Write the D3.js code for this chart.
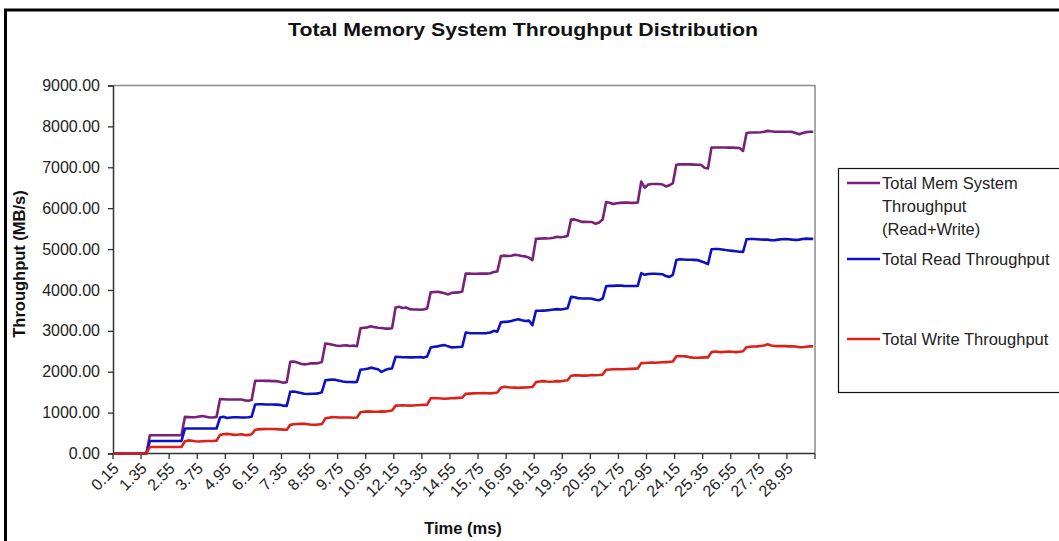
<!DOCTYPE html>
<html>
<head>
<meta charset="utf-8">
<script src="https://cdn.jsdelivr.net/npm/d3@7"></script>
<style>
  html, body { margin: 0; padding: 0; background: #fff; }
  svg { display: block; font-family: "Liberation Sans", Arial, sans-serif; }
</style>
</head>
<body>
<svg id="chart" width="1059" height="541"></svg>
<script>
// Sampling interval of the trace: one point every 0.15 ms, 200 samples
const times = d3.range(200).map(i => ((i + 1) * 0.15).toFixed(2));

// Every 8th sample carries a label on the time axis
const timeTickLabels = ["0.15","1.35","2.55","3.75","4.95","6.15","7.35","8.55","9.75","10.95",
  "12.15","13.35","14.55","15.75","16.95","18.15","19.35","20.55","21.75","22.95",
  "24.15","25.35","26.55","27.75","28.95"];

const yTicks = [0,1000,2000,3000,4000,5000,6000,7000,8000,9000];

const seriesNames = ["Total Mem System Throughput (Read+Write)", "Total Read Throughput", "Total Write Throughput"];

// Total (read + write) throughput, MB/s
const totalThroughput = [
  0,0,0,0,0,0,0,0,0,0,
  445,445,445,445,445,445,445,445,445,445,
  896,890,885,885,905,915,900,880,880,895,
  1330,1325,1320,1320,1320,1320,1320,1300,1290,1310,
  1776,1780,1780,1775,1775,1770,1770,1755,1730,1745,
  2245,2250,2225,2195,2180,2190,2205,2205,2210,2240,
  2690,2680,2660,2640,2630,2640,2645,2630,2640,2625,
  3060,3075,3085,3110,3090,3075,3070,3055,3055,3065,
  3570,3590,3560,3570,3530,3520,3520,3515,3525,3545,
  3940,3950,3955,3940,3920,3890,3930,3935,3940,3960,
  4400,4400,4395,4395,4400,4400,4400,4410,4440,4450,
  4830,4840,4830,4835,4860,4850,4830,4820,4790,4730,
  5250,5255,5260,5260,5265,5275,5300,5290,5300,5320,
  5720,5725,5700,5665,5665,5660,5660,5620,5650,5720,
  6150,6130,6100,6120,6130,6135,6135,6130,6130,6140,
  6650,6500,6580,6590,6590,6590,6580,6530,6560,6610,
  7060,7070,7070,7070,7070,7065,7060,7060,6990,6970,
  7480,7485,7485,7485,7485,7480,7480,7475,7470,7400,
  7840,7850,7850,7850,7855,7870,7890,7880,7870,7870,
  7870,7870,7870,7865,7840,7810,7840,7860,7870,7870
];

// Read throughput, MB/s
const readThroughput = [
  0,0,0,0,0,0,0,0,0,0,
  305,305,305,305,305,305,305,305,305,305,
  610,610,610,610,610,610,610,610,610,610,
  880,900,870,880,885,885,880,880,885,900,
  1200,1205,1205,1200,1200,1200,1195,1190,1170,1165,
  1510,1515,1500,1480,1460,1455,1460,1460,1470,1500,
  1790,1800,1810,1800,1780,1760,1750,1750,1745,1750,
  2050,2060,2075,2100,2080,2060,1995,2040,2070,2080,
  2365,2360,2355,2355,2350,2350,2355,2360,2345,2370,
  2590,2610,2620,2640,2650,2620,2595,2600,2605,2610,
  2960,2945,2940,2940,2940,2940,2945,2960,3000,2980,
  3210,3220,3225,3240,3265,3285,3260,3240,3250,3140,
  3490,3490,3495,3500,3510,3520,3530,3520,3535,3550,
  3830,3820,3800,3790,3790,3790,3785,3760,3750,3790,
  4090,4100,4100,4105,4110,4100,4095,4095,4095,4100,
  4410,4370,4390,4395,4395,4390,4385,4340,4320,4370,
  4730,4750,4745,4740,4740,4735,4730,4700,4670,4630,
  4995,5000,5000,4990,4975,4965,4955,4945,4935,4930,
  5240,5245,5245,5240,5235,5230,5230,5215,5215,5230,
  5240,5245,5240,5230,5225,5230,5245,5255,5250,5250
];

// Write throughput, MB/s
const writeThroughput = [
  0,0,0,0,0,0,0,0,0,0,
  160,160,160,160,160,160,160,160,160,160,
  300,320,310,300,295,300,305,305,305,315,
  455,470,480,470,455,460,470,455,450,470,
  580,590,595,600,600,600,595,590,585,580,
  700,715,720,725,725,715,705,700,710,720,
  860,875,890,885,880,880,880,880,875,880,
  1010,1020,1030,1025,1020,1020,1030,1025,1040,1050,
  1170,1175,1180,1175,1170,1175,1180,1185,1190,1195,
  1350,1355,1350,1345,1340,1345,1350,1355,1360,1365,
  1460,1465,1470,1475,1475,1480,1475,1470,1480,1490,
  1610,1630,1620,1615,1610,1605,1610,1615,1620,1625,
  1745,1760,1770,1760,1755,1760,1770,1765,1780,1790,
  1900,1910,1915,1905,1905,1910,1920,1915,1920,1930,
  2050,2055,2060,2065,2060,2060,2065,2070,2075,2080,
  2210,2215,2220,2225,2220,2225,2230,2235,2240,2250,
  2380,2385,2380,2370,2350,2340,2340,2345,2350,2350,
  2480,2495,2485,2480,2490,2495,2490,2480,2490,2500,
  2600,2610,2615,2620,2630,2640,2670,2640,2630,2625,
  2625,2625,2620,2620,2615,2600,2600,2610,2620,2620
];

const seriesColors = ["#78207a", "#0c12c4", "#dc2118"];
const seriesValues = [totalThroughput, readThroughput, writeThroughput];

const svg = d3.select("#chart");
const plot = { left: 113, right: 815, top: 85.5, bottom: 453.5 };

// Outer chart frame
svg.append("rect")
  .attr("x", 5.5).attr("y", 10).attr("width", 1100).attr("height", 600)
  .attr("fill", "#fff").attr("stroke", "#000").attr("stroke-width", 3);

// Title
svg.append("text")
  .attr("x", 523).attr("y", 36)
  .attr("text-anchor", "middle")
  .attr("font-size", 19).attr("font-weight", "bold")
  .attr("fill", "#111")
  .attr("textLength", 470).attr("lengthAdjust", "spacingAndGlyphs")
  .text("Total Memory System Throughput Distribution");

const x = d3.scaleBand().domain(times).range([plot.left, plot.right]).padding(0);
const xc = t => x(t) + x.bandwidth() / 2;
const y = d3.scaleLinear().domain([0, 9000]).range([plot.bottom, plot.top]);

// Plot-area border (top and right edges in grey)
svg.append("path")
  .attr("d", `M${plot.left},${plot.top}H${plot.right}V${plot.bottom}`)
  .attr("fill", "none").attr("stroke", "#8c8c8c").attr("stroke-width", 1.5);

// Value axis
const yAxis = svg.append("g")
  .attr("transform", `translate(${plot.left},0)`)
  .call(d3.axisLeft(y).tickValues(yTicks).tickSize(5).tickPadding(8).tickFormat(d3.format(".2f")));
yAxis.select(".domain").attr("stroke", "#333").attr("stroke-width", 1.5);
yAxis.selectAll(".tick line").attr("stroke", "#333").attr("stroke-width", 1.3);
yAxis.selectAll(".tick text")
  .attr("font-size", 16).attr("fill", "#222")
  .attr("font-family", "Liberation Sans, Arial, sans-serif");

// Category axis: line, tick marks between every 8th category, rotated labels
const xAxisG = svg.append("g");
xAxisG.append("line")
  .attr("x1", plot.left).attr("x2", plot.right)
  .attr("y1", plot.bottom).attr("y2", plot.bottom)
  .attr("stroke", "#333").attr("stroke-width", 1.5);

const tickBoundaries = times.filter((t, i) => i % 8 === 0).map(t => x(t)).concat([plot.right]);
xAxisG.selectAll("line.tk").data(tickBoundaries).join("line")
  .attr("class", "tk")
  .attr("x1", d => d).attr("x2", d => d)
  .attr("y1", plot.bottom).attr("y2", plot.bottom + 5.5)
  .attr("stroke", "#333").attr("stroke-width", 1.3);

xAxisG.selectAll("text.tl").data(timeTickLabels).join("text")
  .attr("class", "tl")
  .attr("transform", d => `translate(${xc(d) + 5},${plot.bottom + 16}) rotate(-45)`)
  .attr("text-anchor", "end")
  .attr("font-size", 16).attr("fill", "#222")
  .text(d => d);

// Axis titles
svg.append("text")
  .attr("x", 463).attr("y", 534)
  .attr("text-anchor", "middle")
  .attr("font-size", 16.5).attr("font-weight", "bold").attr("fill", "#111")
  .text("Time (ms)");

svg.append("text")
  .attr("transform", "translate(25,264) rotate(-90)")
  .attr("text-anchor", "middle")
  .attr("font-size", 16.5).attr("font-weight", "bold").attr("fill", "#111")
  .text("Throughput (MB/s)");

// Series lines
const line = d3.line()
  .x((d, i) => xc(times[i]))
  .y(d => y(d));

svg.append("g").selectAll("path.series").data(seriesValues).join("path")
  .attr("class", "series")
  .attr("d", d => line(d))
  .attr("fill", "none")
  .attr("stroke", (d, i) => seriesColors[i])
  .attr("stroke-width", 2.6)
  .attr("stroke-linejoin", "round");

// Legend
const legend = svg.append("g");
legend.append("rect")
  .attr("x", 838.5).attr("y", 168.5).attr("width", 260).attr("height", 224)
  .attr("fill", "#fff").attr("stroke", "#111").attr("stroke-width", 1.2);

const legendRows = [
  { lines: ["Total Mem System", "Throughput", "(Read+Write)"], y: 183 },
  { lines: ["Total Read Throughput"], y: 259 },
  { lines: ["Total Write Throughput"], y: 339 }
];

legendRows.forEach((row, i) => {
  legend.append("line")
    .attr("x1", 847).attr("x2", 880)
    .attr("y1", row.y).attr("y2", row.y)
    .attr("stroke", seriesColors[i]).attr("stroke-width", 2.6);
  const t = legend.append("text")
    .attr("x", 882).attr("y", row.y + 6)
    .attr("font-size", 16.5).attr("fill", "#222");
  row.lines.forEach((s, j) => {
    t.append("tspan").attr("x", 882).attr("dy", j === 0 ? 0 : 23).text(s);
  });
});
</script>
</body>
</html>
